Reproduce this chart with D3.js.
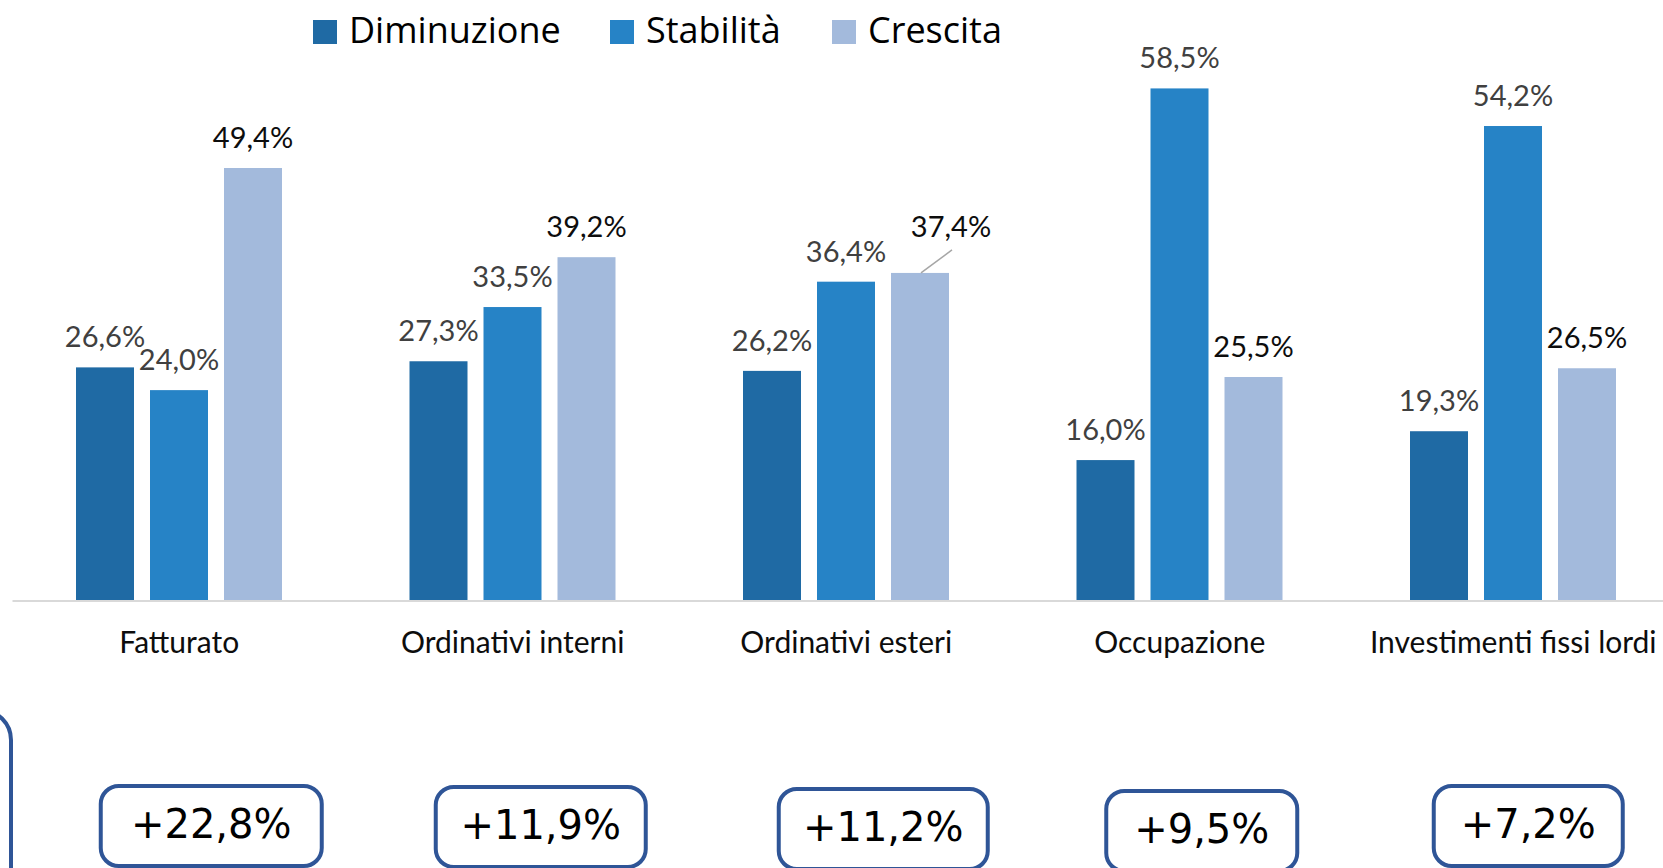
<!DOCTYPE html>
<html>
<head>
<meta charset="utf-8">
<script src="https://cdn.jsdelivr.net/npm/d3@7"></script>
<style>
  html, body { margin: 0; padding: 0; background: #ffffff; overflow: hidden; }
  svg { display: block; }
</style>
</head>
<body>
<svg id="chart" width="1663" height="868"></svg>
<script>
// ---- data ----
const categories = ["Fatturato", "Ordinativi interni", "Ordinativi esteri", "Occupazione", "Investimenti fissi lordi"];
const seriesNames = ["Diminuzione", "Stabilità", "Crescita"];
const diminuzione = [26.6, 27.3, 26.2, 16.0, 19.3];
const stabilita = [24.0, 33.5, 36.4, 58.5, 54.2];
const crescita = [49.4, 39.2, 37.4, 25.5, 26.5];
const saldo = [22.8, 11.9, 11.2, 9.5, 7.2];

// ---- styles / layout ----
const colors = ["#1F6AA4", "#2683C6", "#A3BADC"];
const labelColors = ["#404040", "#404040", "#0D0D0D"];
const W = 1663, H = 868;
const svg = d3.select("#chart");
svg.append("rect").attr("width", W).attr("height", H).attr("fill", "#fff");

const x0 = d3.scaleBand().domain(categories).range([12.5, 12.5 + 5 * 333.5]).padding(0);
const x1 = d3.scaleBand().domain(seriesNames).range([63.5, 269.5]).paddingInner(16 / 74).paddingOuter(0);
const y = d3.scaleLinear().domain([0, 60]).range([600, 600 - 60 * 8.745]);

const seriesValues = [diminuzione, stabilita, crescita];
const rows = [];
categories.forEach((c, i) => {
  seriesNames.forEach((s, j) => rows.push({ cat: c, ser: s, si: j, ci: i, v: seriesValues[j][i] }));
});

// bars
svg.append("g").selectAll("rect").data(rows).join("rect")
  .attr("x", d => x0(d.cat) + x1(d.ser))
  .attr("y", d => y(d.v))
  .attr("width", x1.bandwidth())
  .attr("height", d => y(0) - y(d.v))
  .attr("fill", d => colors[d.si]);

// baseline
svg.append("line")
  .attr("x1", x0.range()[0]).attr("x2", W)
  .attr("y1", y(0) + 1).attr("y2", y(0) + 1)
  .attr("stroke", "#D9D9D9").attr("stroke-width", 2);

// value labels
const fmt = v => d3.format(".1f")(v).replace(".", ",") + "%";
// the one label moved off its bar (Ordinativi esteri / Crescita) with a leader line
const isMoved = d => d.ci === 2 && d.si === 2;
const movedDx = 31, movedDy = -16;

svg.append("g").selectAll("text").data(rows).join("text")
  .attr("x", d => x0(d.cat) + x1(d.ser) + x1.bandwidth() / 2 + (isMoved(d) ? movedDx : 0))
  .attr("y", d => y(d.v) - 20 + (isMoved(d) ? movedDy : 0))
  .attr("text-anchor", "middle")
  .attr("font-family", "Lato, 'Noto Sans', sans-serif")
  .attr("font-size", 29)
  .attr("fill", d => labelColors[d.si])
  .text(d => fmt(d.v));

rows.filter(isMoved).forEach(d => {
  const cx = x0(d.cat) + x1(d.ser) + x1.bandwidth() / 2;
  svg.append("line")
    .attr("x1", cx + 1).attr("y1", y(d.v))
    .attr("x2", cx + 32).attr("y2", y(d.v) - 23)
    .attr("stroke", "#A6A6A6").attr("stroke-width", 1.5);
});

// category labels
svg.append("g").selectAll("text").data(categories).join("text")
  .attr("x", d => x0(d) + x0.bandwidth() / 2)
  .attr("y", 653)
  .attr("text-anchor", "middle")
  .attr("font-family", "Lato, 'Noto Sans', sans-serif")
  .attr("font-size", 30)
  .attr("fill", "#0D0D0D")
  .text(d => d);

// legend
const legendX = [313, 610, 832];
const leg = svg.append("g");
seriesNames.forEach((s, j) => {
  leg.append("rect").attr("x", legendX[j]).attr("y", 20).attr("width", 24).attr("height", 24).attr("fill", colors[j]);
  leg.append("text").attr("x", legendX[j] + 36).attr("y", 43.3)
    .attr("font-family", "'Open Sans', sans-serif").attr("font-size", 36)
    .attr("fill", "#000").text(s);
});

// annotation boxes with the net balance (saldo)
const boxDx = [32, 28, 37, 22, 15];
const boxW = [221, 210, 209, 191, 189];
const boxTop = [786, 787, 789, 791, 786];
const boxes = svg.append("g");
saldo.forEach((v, i) => {
  const cx = x0(categories[i]) + x0.bandwidth() / 2 + boxDx[i];
  boxes.append("rect")
    .attr("x", cx - boxW[i] / 2).attr("y", boxTop[i])
    .attr("width", boxW[i]).attr("height", 80)
    .attr("rx", 18).attr("ry", 18)
    .attr("fill", "#fff").attr("stroke", "#2F5597").attr("stroke-width", 4);
  boxes.append("text")
    .attr("x", cx).attr("y", boxTop[i] + 52)
    .attr("text-anchor", "middle")
    .attr("font-family", "'DejaVu Sans', sans-serif").attr("font-size", 40)
    .attr("fill", "#000")
    .text("+" + d3.format(".1f")(v).replace(".", ",") + "%");
});
// partial box at the left edge
boxes.append("rect")
  .attr("x", -300).attr("y", 710).attr("width", 311).attr("height", 200)
  .attr("rx", 30).attr("ry", 30)
  .attr("fill", "none").attr("stroke", "#2F5597").attr("stroke-width", 4);
</script>
</body>
</html>
